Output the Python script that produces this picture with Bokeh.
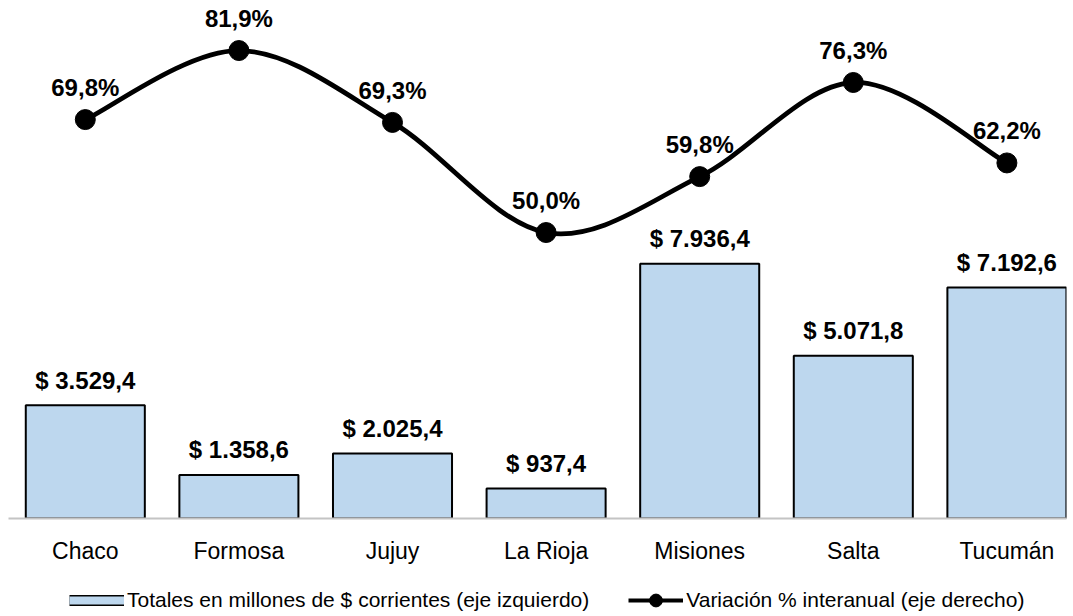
from bokeh.plotting import figure
from bokeh.layouts import column
from bokeh.models import Range1d, FixedTicker, ColumnDataSource, Legend, LegendItem
from bokeh.core.properties import value
from bokeh.embed import file_html
from bokeh.resources import INLINE

# ---- data ----
provincias = ["Chaco", "Formosa", "Jujuy", "La Rioja", "Misiones", "Salta", "Tucumán"]
totales = [3529.4, 1358.6, 2025.4, 937.4, 7936.4, 5071.8, 7192.6]
variacion = [69.8, 81.9, 69.3, 50.0, 59.8, 76.3, 62.2]
label_barras = "Totales en millones de $ corrientes (eje izquierdo)"
label_linea = "Variación % interanual (eje derecho)"


def fmt_money(v):
    s = f"{v:,.1f}".replace(",", "X").replace(".", ",").replace("X", ".")
    return "$ " + s


def fmt_pct(v):
    return f"{v:.1f}".replace(".", ",") + "%"


FONT = "Liberation Sans"
BAR_FILL = "#BDD7EE"
xs = list(range(len(provincias)))

src = ColumnDataSource(dict(
    x=xs, tot=totales, var=variacion,
    tot_lbl=[fmt_money(v) for v in totales],
    var_lbl=[fmt_pct(v) for v in variacion],
))

# ---------------- main chart ----------------
p = figure(width=1073, height=570,
           x_range=Range1d(-0.5, 6.388), y_range=Range1d(0, 15888),
           output_backend="svg", toolbar_location=None, y_axis_location=None,
           min_border_left=8, min_border_right=7, min_border_top=8, min_border_bottom=52)
p.extra_y_ranges = {"pct": Range1d(-0.13, 89.27)}
p.outline_line_color = None
p.xgrid.visible = False
p.ygrid.visible = False

# bars
p.vbar(x="x", top="tot", bottom=0, width=0.775, source=src,
       fill_color=BAR_FILL, line_color="black", line_width=2)
p.text(x="x", y="tot", text="tot_lbl", source=src, text_align="center",
       text_baseline="middle", y_offset=-25, text_font=value(FONT),
       text_font_style="bold", text_font_size="24px", text_color="black")

# smooth line (Catmull-Rom -> cubic bezier from the data points)
n = len(xs)
x0, y0, x1, y1, cx0, cy0, cx1, cy1 = [], [], [], [], [], [], [], []
for i in range(n - 1):
    pm = i - 1 if i > 0 else i
    pp = i + 2 if i + 2 < n else i + 1
    x0.append(xs[i]); y0.append(variacion[i])
    x1.append(xs[i + 1]); y1.append(variacion[i + 1])
    cx0.append(xs[i] + (xs[i + 1] - xs[pm]) / 6)
    cy0.append(variacion[i] + (variacion[i + 1] - variacion[pm]) / 6)
    cx1.append(xs[i + 1] - (xs[pp] - xs[i]) / 6)
    cy1.append(variacion[i + 1] - (variacion[pp] - variacion[i]) / 6)
bz = ColumnDataSource(dict(x0=x0, y0=y0, x1=x1, y1=y1, cx0=cx0, cy0=cy0, cx1=cx1, cy1=cy1))
p.bezier(x0="x0", y0="y0", x1="x1", y1="y1", cx0="cx0", cy0="cy0", cx1="cx1", cy1="cy1",
         source=bz, y_range_name="pct", line_color="black", line_width=4.8)
p.scatter(x="x", y="var", source=src, y_range_name="pct", size=20,
          marker="circle", fill_color="black", line_color="black")
p.text(x="x", y="var", text="var_lbl", source=src, y_range_name="pct",
       text_align="center", text_baseline="middle", y_offset=-32,
       text_font=value(FONT), text_font_style="bold", text_font_size="24px",
       text_color="black")

# x axis
ax = p.xaxis[0]
ax.ticker = FixedTicker(ticks=xs)
ax.major_label_overrides = {i: name for i, name in enumerate(provincias)}
ax.major_tick_line_color = None
ax.major_tick_out = 0
ax.major_tick_in = 0
ax.minor_tick_line_color = None
ax.axis_line_color = "#c4c4c4"
ax.axis_line_width = 2
ax.major_label_standoff = 19
ax.major_label_text_font = FONT
ax.major_label_text_font_size = "23px"
ax.major_label_text_color = "black"

# ---------------- legend strip ----------------
lg = figure(width=1073, height=46, x_range=Range1d(-0.5, 6.5), y_range=Range1d(-2, -1),
            output_backend="svg", toolbar_location=None,
            x_axis_location=None, y_axis_location=None,
            min_border_left=0, min_border_right=0, min_border_top=0, min_border_bottom=0)
lg.outline_line_color = None
lg.xgrid.visible = False
lg.ygrid.visible = False
# same series drawn outside the visible range; they only supply legend glyphs
box_border = lg.line(x="x", y="tot", source=src, line_color="black", line_width=11)
box_fill = lg.line(x="x", y="tot", source=src, line_color=BAR_FILL, line_width=8)
line_leg = lg.line(x="x", y="var", source=src, line_color="black", line_width=4)
dots_leg = lg.scatter(x="x", y="var", source=src, marker="circle",
                      fill_color="black", line_color="black")

legend = Legend(items=[LegendItem(label=label_barras, renderers=[box_border, box_fill], index=0),
                       LegendItem(label=label_linea, renderers=[line_leg, dots_leg], index=0)],
                location=(61, 0), orientation="horizontal", padding=0, margin=0,
                spacing=39, border_line_color=None, background_fill_alpha=0,
                glyph_width=55, glyph_height=32, label_standoff=3,
                label_text_font=FONT, label_text_font_size="21px",
                label_text_color="black")
lg.add_layout(legend)

layout = column(p, lg, spacing=0)
open("out.html", "w").write(file_html(layout, INLINE))
